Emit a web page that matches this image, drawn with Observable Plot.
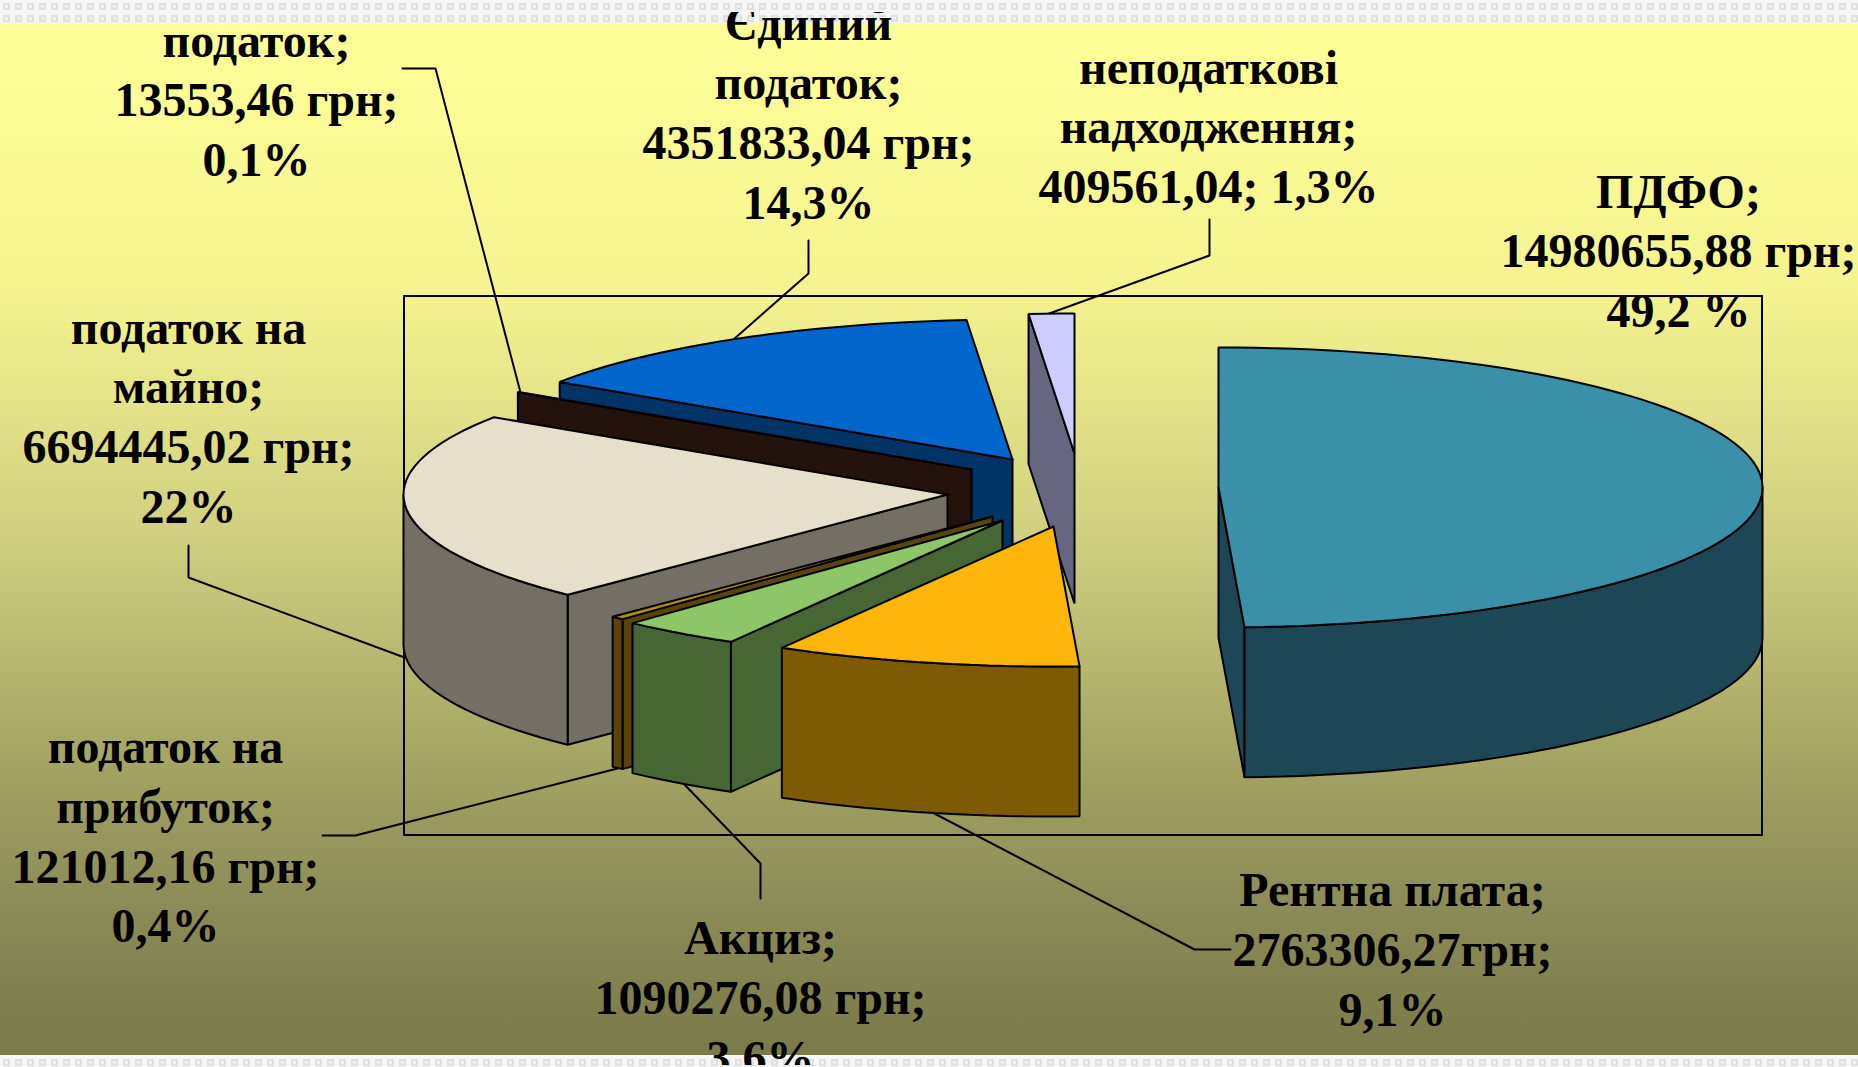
<!DOCTYPE html>
<html lang="uk">
<head>
<meta charset="utf-8">
<title>Структура доходів</title>
<script src="https://cdn.jsdelivr.net/npm/d3@7"></script>
<script src="https://cdn.jsdelivr.net/npm/@observablehq/plot@0.6"></script>
<style>
html,body{margin:0;padding:0;overflow:hidden;background:#fff}
#page{position:relative;width:1858px;height:1067px;
background:
 linear-gradient(180deg,#ffff99 0,#f4f38f 26%,#cfcf7f 50%,#a3a363 72%,#8c8c58 85%,#7a7a4a 100%) 0 23px/1858px 1032px no-repeat,
 url("data:image/svg+xml,%3Csvg xmlns='http://www.w3.org/2000/svg' width='12' height='12'%3E%3Crect width='12' height='12' fill='%23f5f5f5'/%3E%3Crect x='3' y='3' width='7' height='7' fill='%23e0e0e0'/%3E%3Crect x='5' y='5' width='3' height='3' fill='%23f0f0f0'/%3E%3C/svg%3E") 0 0/12px 12px repeat;}
</style>
</head>
<body>
<div id="page"></div>
<script>
// ---------- data (clockwise from 12 o'clock) ----------
const sliceNames = ["ПДФО","Рентна плата","Акциз","податок на прибуток","податок на майно","податок","Єдиний податок","неподаткові надходження"];
const sliceValues = [14980655.88,2763306.27,1090276.08,121012.16,6694445.02,13553.46,4351833.04,409561.04];
const labelLines = [
 ["ПДФО;","14980655,88 грн;","49,2 %"],
 ["Рентна плата;","2763306,27грн;","9,1%"],
 ["Акциз;","1090276,08 грн;","3,6%"],
 ["податок на","прибуток;","121012,16 грн;","0,4%"],
 ["податок на","майно;","6694445,02 грн;","22%"],
 ["податок;","13553,46 грн;","0,1%"],
 ["Єдиний","податок;","4351833,04 грн;","14,3%"],
 ["неподаткові","надходження;","409561,04; 1,3%"]
];

// ---------- styles ----------
const topColors  = ["#3A90A8","#FFB60A","#8CC666","#B68D14","#E5DFCB","#4A2518","#0066CC","#CCCCFF"];
const sideColors = ["#1D4757","#7F5A04","#466633","#5A4409","#736F64","#24120D","#003366","#666680"];

// ---------- layout: pie projection ----------
const RX = 544, RY = 140, DEPTH = 150;
const apexX = [1218,1053,1002,992,947,971,1012,1074];
const apexY = [487,526,520,516,494,469,459,453];
const labelX = [1678,1392,760,165,188,256,808,1208];
const labelFirstBaseline = [207,905.5,953.6,762.5,343,56,39,83];
const LINE = 59.8;
const drawOrder = [6,5,4,3,2,7,1,0];

// leader lines
const leaders = [
 [[402,68],[435,68],[520,392]],
 [[808,240],[808,273],[733,339]],
 [[1209,219],[1209,255],[1046,314]],
 [[188,545],[188,577],[404,657]],
 [[322,835],[355,835],[617,768]],
 [[760,898],[760,863],[683,783]],
 [[1230,949],[1194,949],[930,811]]
];

// ---------- geometry derived from the values ----------
const total = d3.sum(sliceValues);
const rad = d => d * Math.PI / 180;
let acc = 0;
const slices = sliceValues.map((v, i) => {
  const a0 = acc; acc += v / total * 360;
  return {i, a0, a1: acc, ax: apexX[i], ay: apexY[i]};
});
const rim = (s, a, dz = 0) => ({x: s.ax + RX * Math.sin(rad(a)), y: s.ay - RY * Math.cos(rad(a)) + dz});
const arc = (s, a0, a1, dz = 0) => {
  const n = Math.max(1, Math.ceil(Math.abs(a1 - a0) / 2));
  return d3.range(n + 1).map(k => rim(s, a0 + (a1 - a0) * k / n, dz));
};
const closed = pts => [...pts, pts[0]];
const polygons = [];
for (const idx of drawOrder) {
  const s = slices[idx], top = topColors[idx], side = sideColors[idx];
  const A = {x: s.ax, y: s.ay}, B = {x: s.ax, y: s.ay + DEPTH};
  const cut = a => closed([A, rim(s, a), rim(s, a, DEPTH), B]);
  if (Math.sin(rad(s.a0)) < -1e-6) polygons.push({pts: cut(s.a0), fill: side});
  if (Math.sin(rad(s.a1)) > 1e-6) polygons.push({pts: cut(s.a1), fill: side});
  const f0 = Math.max(s.a0, 90), f1 = Math.min(s.a1, 270);
  if (f1 > f0) polygons.push({pts: closed([...arc(s, f0, f1), ...arc(s, f1, f0, DEPTH)]), fill: side});
  polygons.push({pts: closed([A, ...arc(s, s.a0, s.a1)]), fill: top});
}
const textRows = labelLines.flatMap((lines, i) =>
  lines.map((t, k) => ({t, x: labelX[i], y: labelFirstBaseline[i] + k * LINE})));

const chart = Plot.plot({
  width: 1858, height: 1067,
  margin: 0,
  x: {domain: [0, 1858], range: [0, 1858], axis: null},
  y: {domain: [0, 1067], range: [0, 1067], axis: null},
  marks: [
    Plot.rect([{x1: 404, x2: 1762, y1: 296, y2: 835}], {x1: "x1", x2: "x2", y1: "y1", y2: "y2", fill: "none", stroke: "#000", strokeWidth: 2}),
    ...leaders.map(l => Plot.line(l, {x: d => d[0], y: d => d[1], stroke: "#000", strokeWidth: 2})),
    ...polygons.map(p => Plot.line(p.pts, {x: "x", y: "y", fill: p.fill, stroke: "#000", strokeWidth: 2, strokeLinejoin: "miter"})),
    Plot.text(textRows, {x: "x", y: "y", text: "t", lineAnchor: "bottom", textAnchor: "middle", fill: "#000",
      fontFamily: "Liberation Serif", fontWeight: "bold", fontSize: 48})
  ]
});
chart.style.background = "transparent";
chart.style.clipPath = "inset(12px 0 2px 0)";
document.getElementById("page").append(chart);
</script>
</body>
</html>
